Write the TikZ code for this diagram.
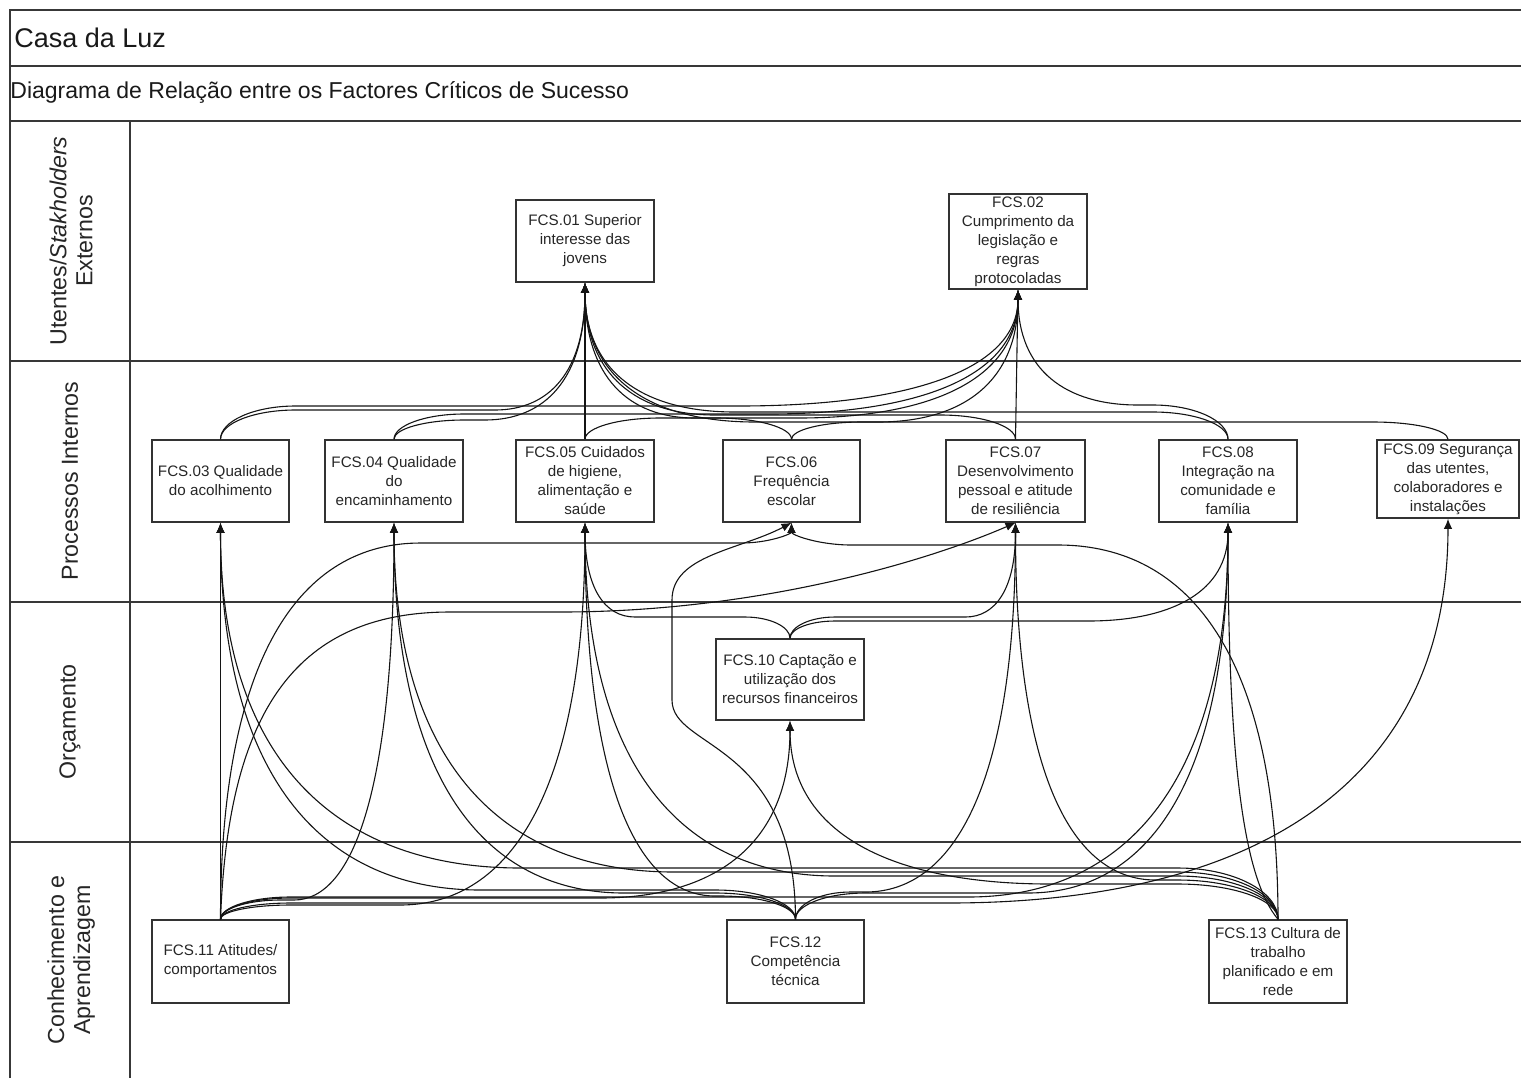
\documentclass[tikz,border=0pt]{standalone}
\usepackage{fontspec}
\setmainfont{Liberation Sans}
\usetikzlibrary{arrows.meta,calc}

% HN: turn at source to level #3, run, sweep into target
% #1 source anchor, #2 target anchor, #3 level h, #4 signed turn radius, #5 signed sweep width
\newcommand\hnedge[5]{%
  \draw[conn] (#1) .. controls ($(#1)!0.55!(#1 |- 0,#3)$) and ($(#1 |- 0,#3)+({0.45*(#4)},0)$) .. ($(#1 |- 0,#3)+(#4,0)$)
    -- ($(#2 |- 0,#3)+({-(#5)},0)$)
    .. controls ($(#2 |- 0,#3)+({-0.4*(#5)},0)$) and ($(#2)!0.7!(#2 |- 0,#3)$) .. (#2);}
% HT: sweep from source to level #3, run, turn into target
% #1 source, #2 target, #3 level h, #4 signed sweep width, #5 signed turn radius
\newcommand\htedge[5]{%
  \draw[conn] (#1) .. controls ($(#1)!0.7!(#1 |- 0,#3)$) and ($(#1 |- 0,#3)+({0.4*(#4)},0)$) .. ($(#1 |- 0,#3)+(#4,0)$)
    -- ($(#2 |- 0,#3)+({-(#5)},0)$) .. controls ($(#2 |- 0,#3)+({-0.45*(#5)},0)$) and ($(#2)!0.55!(#2 |- 0,#3)$) .. (#2);}

\begin{document}
\begin{tikzpicture}[x=0.5pt,y=-0.5pt,
  frame/.style={draw=black!78, line width=1pt},
  fcs/.style={draw=black!80, line width=0.75pt, align=center, inner sep=0pt,
    font=\fontsize{7.6}{9.5}\selectfont, text=black!85},
  conn/.style={draw=black!92, line width=0.55pt, -{Latex[length=5pt,width=4.2pt]}},
  lane/.style={rotate=90, align=center, inner sep=0pt,
    font=\fontsize{11.6}{13}\selectfont, text=black!85},
]
\useasboundingbox (0,0) rectangle (1521,1078);

% frame
\draw[frame] (10,1078) -- (10,10) -- (1521,10);
\draw[frame] (10,66) -- (1521,66);
\draw[frame] (10,121) -- (1521,121);
\draw[frame] (10,361) -- (1521,361);
\draw[frame] (10,602) -- (1521,602);
\draw[frame] (10,842) -- (1521,842);
\draw[frame] (130,121) -- (130,1078);

\node[anchor=west, inner sep=0pt, font=\fontsize{13.5}{16}\selectfont, text=black!90] (title) at (14,38) {Casa da Luz};
\node[anchor=west, inner sep=0pt, font=\fontsize{11.5}{14}\selectfont, text=black!90] (subtitle) at (10,92) {Diagrama de Relação entre os Factores Críticos de Sucesso};

\node[lane] (lane1) at (71,241) {Utentes/\textit{Stakholders}\\Externos};
\node[lane] (lane2) at (70,481) {Processos Internos};
\node[lane] (lane3) at (70,722) {Orçamento};
\node[lane] (lane4) at (71,960) {Conhecimento e\\Aprendizagem};

% nodes
\node[fcs, minimum width=69pt, minimum height=41pt] (n01) at (585,241) {FCS.01 Superior\\interesse das\\jovens};
\node[fcs, minimum width=69pt, minimum height=47.5pt] (n02) at (1018,241.5) {FCS.02\\Cumprimento da\\legislação e\\regras\\protocoladas};
\node[fcs, minimum width=68.5pt, minimum height=41pt] (n03) at (220.5,481) {FCS.03 Qualidade\\do acolhimento};
\node[fcs, minimum width=69pt, minimum height=41pt] (n04) at (394,481) {FCS.04 Qualidade\\do\\encaminhamento};
\node[fcs, minimum width=69pt, minimum height=41pt] (n05) at (585,481) {FCS.05 Cuidados\\de higiene,\\alimentação e\\saúde};
\node[fcs, minimum width=68.5pt, minimum height=41pt] (n06) at (791.5,481) {FCS.06\\Frequência\\escolar};
\node[fcs, minimum width=69.5pt, minimum height=41pt] (n07) at (1015.5,481) {FCS.07\\Desenvolvimento\\pessoal e atitude\\de resiliência};
\node[fcs, minimum width=69pt, minimum height=41pt] (n08) at (1228,481) {FCS.08\\Integração na\\comunidade e\\família};
\node[fcs, minimum width=71pt, minimum height=39pt] (n09) at (1448,479) {FCS.09 Segurança\\das utentes,\\colaboradores e\\instalações};
\node[fcs, minimum width=74pt, minimum height=40.5pt] (n10) at (790,679.5) {FCS.10 Captação e\\utilização dos\\recursos financeiros};
\node[fcs, minimum width=68.5pt, minimum height=41.5pt] (n11) at (220.5,961.5) {FCS.11 Atitudes/\\comportamentos};
\node[fcs, minimum width=68.5pt, minimum height=41.5pt] (n12) at (795.5,961.5) {FCS.12\\Competência\\técnica};
\node[fcs, minimum width=69pt, minimum height=41.5pt] (n13) at (1278,961.5) {FCS.13 Cultura de\\trabalho\\planificado e em\\rede};

% processes -> stakeholders
\hnedge{n03.north}{n01.south}{410}{75}{90}
\hnedge{n04.north}{n01.south}{420}{70}{100}
\draw[conn] (n05.north) -- (n01.south);
\hnedge{n06.north}{n01.south}{418}{-75}{-110}
\hnedge{n07.north}{n01.south}{415}{-75}{-130}
\hnedge{n08.north}{n01.south}{412}{-75}{-150}
\hnedge{n09.north}{n01.south}{422}{-75}{-170}
\hnedge{n03.north}{n02.south}{406}{75}{280}
\hnedge{n04.north}{n02.south}{414}{70}{250}
\hnedge{n05.north}{n02.south}{418}{75}{220}
\hnedge{n06.north}{n02.south}{422}{70}{140}
\draw[conn] (n07.north) -- (n02.south);
\hnedge{n08.north}{n02.south}{405}{-75}{-120}

% budget -> processes
\hnedge{n10.north}{n05.south}{617}{-45}{-50}
\hnedge{n10.north}{n07.south}{617}{45}{50}
\hnedge{n10.north}{n08.south}{621}{45}{140}

% FCS.11
\draw[conn] (n11.north) -- (n03.south);
\hnedge{n11.north}{n04.south}{900}{60}{100}
\hnedge{n11.north}{n05.south}{905}{70}{185}
\htedge{n11.north}{n06.south}{543}{200}{50}
\draw[conn] (n11.north) .. controls (228,720) and (290,612) .. (450,612) -- (560,612)
  .. controls (760,612) and (930,560) .. (n07.south);
\hnedge{n11.north}{n08.south}{897}{70}{260}
\hnedge{n11.north}{n09.south}{903}{70}{500}
\hnedge{n11.north}{n10.south}{898}{70}{190}

% FCS.12
\hnedge{n12.north}{n03.south}{890}{-80}{-260}
\hnedge{n12.north}{n04.south}{893}{-80}{-230}
\hnedge{n12.north}{n05.south}{896}{-75}{-130}
\draw[conn] (n12.north) .. controls (795,740) and (672,750) .. (672,700) -- (672,600)
  .. controls (672,555) and (740,550) .. (n06.south);
\hnedge{n12.north}{n07.south}{892}{55}{150}
\hnedge{n12.north}{n08.south}{893}{70}{200}

% FCS.13
\hnedge{n13.north}{n03.south}{868}{-100}{-300}
\hnedge{n13.north}{n04.south}{872}{-100}{-280}
\hnedge{n13.north}{n05.south}{876}{-100}{-250}
\htedge{n13.north}{n06.south}{545}{-220}{-60}
\hnedge{n13.north}{n07.south}{880}{-100}{-140}
\draw[conn] (n13.north) .. controls (1245,880) and (1228,770) .. (n08.south);
\hnedge{n13.north}{n10.south}{884}{-100}{-260}

\end{tikzpicture}
\end{document}
